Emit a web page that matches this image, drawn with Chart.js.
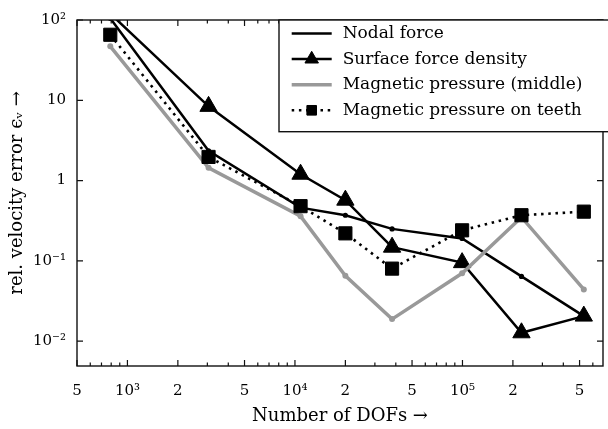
<!DOCTYPE html>
<html><head><meta charset="utf-8">
<script src="https://cdn.jsdelivr.net/npm/chart.js@4.4.0/dist/chart.umd.min.js"></script>
<style>
html,body{margin:0;padding:0;background:#fff;overflow:hidden;}
#wrap{width:614px;height:429px;}
</style></head><body>
<div id="wrap"><canvas id="c" width="614" height="429"></canvas></div>
<script>
const dofs = [790, 3050, 10800, 20000, 38000, 99500, 225000, 530000];
const nodalForce = [105, 2.35, 0.46, 0.37, 0.25, 0.19, 0.064, 0.0205];
const surfaceForceDensity = [120, 8.4, 1.2, 0.57, 0.148, 0.095, 0.0127, 0.0205];
const magneticPressureMiddle = [47, 1.44, 0.36, 0.065, 0.0188, 0.07, 0.35, 0.044];
const magneticPressureTeeth = [65.5, 1.97, 0.48, 0.22, 0.08, 0.24, 0.37, 0.41];
const seriesLabels = ['Nodal force', 'Surface force density', 'Magnetic pressure (middle)', 'Magnetic pressure on teeth'];
const xTickValues = [500, 1000, 2000, 5000, 10000, 20000, 50000, 100000, 200000, 500000];
const xTickLabels = ['5', '10³', '2', '5', '10⁴', '2', '5', '10⁵', '2', '5'];
const yTickValues = [0.01, 0.1, 1, 10, 100];
const yTickLabels = ['10⁻²', '10⁻¹', '1', '10', '10²'];
const xTitle = 'Number of DOFs →';
const yTitle = 'rel. velocity error ϵᵥ →';

const FONT = '"DejaVu Serif", serif';
Chart.defaults.font.family = FONT;
Chart.defaults.color = '#000';

function pts(vals) { return dofs.map((d, i) => ({x: d, y: vals[i]})); }

function drawMarker(ctx, style, r, x, y) {
  ctx.beginPath();
  if (style === 'triangle') {
    let a = 0;
    ctx.moveTo(x + Math.sin(a) * r, y - Math.cos(a) * r);
    a += 2 * Math.PI / 3;
    ctx.lineTo(x + Math.sin(a) * r, y - Math.cos(a) * r);
    a += 2 * Math.PI / 3;
    ctx.lineTo(x + Math.sin(a) * r, y - Math.cos(a) * r);
    ctx.closePath();
  } else if (style === 'rect') {
    const s = Math.SQRT1_2 * r;
    ctx.rect(x - s, y - s, 2 * s, 2 * s);
  }
  ctx.fillStyle = '#000';
  ctx.fill();
  ctx.lineWidth = 1;
  ctx.setLineDash([]);
  ctx.strokeStyle = '#000';
  ctx.stroke();
}

const framePlugin = {
  id: 'frame',
  afterDatasetsDraw(chart) {
    const {ctx, chartArea: a, scales: {x, y}} = chart;
    ctx.save();
    ctx.beginPath();
    for (let e = 2; e <= 5; e++) {
      for (let m = 1; m <= 9; m++) {
        const v = m * Math.pow(10, e);
        if (v < x.min || v > x.max) continue;
        const px = x.getPixelForValue(v);
        const L = xTickValues.includes(v) ? 6 : 3.5;
        ctx.moveTo(px, a.bottom); ctx.lineTo(px, a.bottom - L);
        ctx.moveTo(px, a.top); ctx.lineTo(px, a.top + L);
      }
    }
    yTickValues.forEach(v => {
      const py = y.getPixelForValue(v);
      ctx.moveTo(a.left, py); ctx.lineTo(a.left + 6, py);
      ctx.moveTo(a.right, py); ctx.lineTo(a.right - 6, py);
    });
    ctx.strokeStyle = '#111';
    ctx.lineWidth = 1.2;
    ctx.stroke();
    ctx.lineWidth = 1.4;
    ctx.strokeRect(a.left, a.top, a.right - a.left, a.bottom - a.top);

    // legend
    const lx = 279, ly = a.top, lb = 131.7;
    ctx.fillStyle = '#fff';
    ctx.fillRect(lx, ly, a.right + 20 - lx, lb - ly);
    ctx.strokeStyle = '#111';
    ctx.lineWidth = 1.4;
    ctx.strokeRect(lx, ly, a.right + 20 - lx, lb - ly);
    chart.data.datasets.forEach((ds, i) => {
      const yy = 33.5 + i * 25.6;
      ctx.beginPath();
      ctx.setLineDash(ds.borderDash || []);
      ctx.lineCap = 'butt';
      ctx.strokeStyle = ds.borderColor;
      ctx.lineWidth = ds.borderWidth;
      ctx.moveTo(291.7, yy); ctx.lineTo(331.7, yy);
      ctx.stroke();
      ctx.setLineDash([]);
      if (ds.legendMarker) drawMarker(ctx, ds.legendMarker.style, ds.legendMarker.radius, 311.7, yy);
      ctx.fillStyle = '#000';
      ctx.font = '17px ' + FONT;
      ctx.textBaseline = 'middle';
      ctx.textAlign = 'left';
      ctx.fillText(ds.label, 342.7, yy);
    });
    ctx.restore();
  }
};

new Chart(document.getElementById('c'), {
  type: 'line',
  data: {
    datasets: [
      {
        label: seriesLabels[0], data: pts(nodalForce),
        borderColor: '#000', backgroundColor: '#000', borderWidth: 2.5,
        pointStyle: 'circle', pointRadius: 2.6, pointBorderWidth: 0,
        pointBackgroundColor: '#000', order: 4, legendMarker: null
      },
      {
        label: seriesLabels[1], data: pts(surfaceForceDensity),
        borderColor: '#000', backgroundColor: '#000', borderWidth: 2.5,
        pointStyle: 'triangle', pointRadius: 10, pointBorderWidth: 1,
        pointBackgroundColor: '#000', pointBorderColor: '#000', order: 3,
        legendMarker: {style: 'triangle', radius: 7.8}
      },
      {
        label: seriesLabels[2], data: pts(magneticPressureMiddle),
        borderColor: '#999999', backgroundColor: '#999999', borderWidth: 3.5,
        pointStyle: 'circle', pointRadius: 3, pointBorderWidth: 0,
        pointBackgroundColor: '#999999', order: 2, legendMarker: null
      },
      {
        label: seriesLabels[3], data: pts(magneticPressureTeeth),
        borderColor: '#000', backgroundColor: '#000', borderWidth: 2.6,
        borderDash: [2.5, 4.7], borderCapStyle: 'butt',
        pointStyle: 'rect', pointRadius: 9.3, pointBorderWidth: 1,
        pointBackgroundColor: '#000', pointBorderColor: '#000', order: 1,
        legendMarker: {style: 'rect', radius: 6.8}
      }
    ]
  },
  options: {
    responsive: false,
    animation: false,
    devicePixelRatio: 1,
    events: [],
    layout: {padding: {left: 0, top: 14, right: 5, bottom: 0}},
    plugins: {legend: {display: false}, tooltip: {enabled: false}},
    elements: {line: {tension: 0}},
    scales: {
      x: {
        type: 'logarithmic', min: 500, max: 690000, bounds: 'data', position: 'bottom',
        grid: {display: false, drawTicks: false}, border: {display: false},
        afterBuildTicks: s => { s.ticks = xTickValues.map(v => ({value: v})); },
        afterFit: s => { s.height = 63; },
        ticks: {
          autoSkip: false, maxRotation: 0, minRotation: 0, padding: 16, color: '#000',
          font: {family: FONT, size: 15},
          callback: (v, i) => xTickLabels[i]
        },
        title: {display: true, text: xTitle, color: '#000', font: {family: FONT, size: 18}, padding: {top: 0, bottom: 2}}
      },
      y: {
        type: 'logarithmic', min: 0.0049, max: 100, bounds: 'data', position: 'left',
        grid: {display: false, drawTicks: false}, border: {display: false},
        afterBuildTicks: s => { s.ticks = yTickValues.map(v => ({value: v})); },
        afterFit: s => { s.width = 77; },
        ticks: {
          autoSkip: false, padding: 11, color: '#000',
          font: {family: FONT, size: 15},
          callback: (v, i) => yTickLabels[i]
        },
        title: {display: true, text: yTitle, color: '#000', font: {family: FONT, size: 18}, padding: {top: 7, bottom: 0}}
      }
    }
  },
  plugins: [framePlugin]
});
</script>
</body></html>
